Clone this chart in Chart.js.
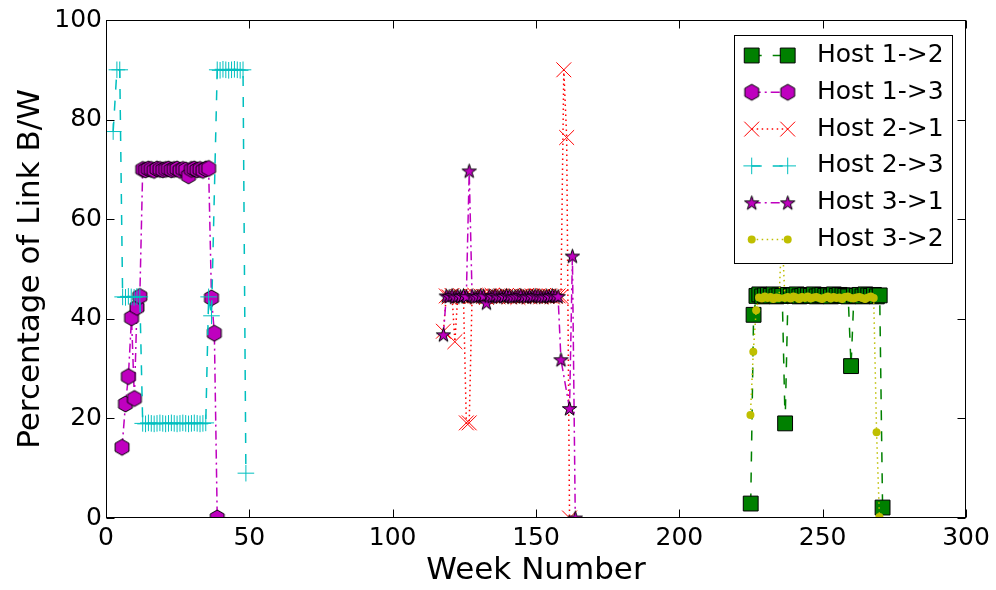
<!DOCTYPE html>
<html><head><meta charset="utf-8">
<script src="https://cdn.jsdelivr.net/npm/chart.js@4/dist/chart.umd.min.js"></script>
<style>html,body{margin:0;padding:0;background:#fff}#wrap{width:996px;height:590px}</style>
</head><body><div id="wrap"><canvas id="c" width="996" height="590"></canvas></div>
<script>
// ---------- data ----------
const xTicks = [0, 50, 100, 150, 200, 250, 300];
const yTicks = [0, 20, 40, 60, 80, 100];
const seriesNames = ['Host 1->2', 'Host 1->3', 'Host 2->1', 'Host 2->3', 'Host 3->1', 'Host 3->2'];

const h12Weeks = [224.9, 225.9, 226.9, 227.9, 228.9, 229.9, 230.9, 231.9, 232.9, 233.9, 234.9, 235.9,
  236.9, 237.9, 238.9, 239.9, 240.9, 241.9, 242.9, 243.9, 244.9, 245.9, 246.9, 247.9, 248.9, 249.9,
  250.9, 251.9, 252.9, 253.9, 254.9, 255.9, 256.9, 257.9, 258.9, 259.9, 260.9, 261.9, 262.9, 263.9,
  264.9, 265.9, 266.9, 267.9, 268.9, 269.9, 270.9];
const h12Vals = [2.9, 40.8, 44.6, 44.9, 44.5, 44.7, 44.8, 44.6, 44.9, 44.5, 44.7, 44.6,
  19.0, 44.8, 44.6, 44.7, 44.9, 44.5, 44.6, 44.8, 44.7, 44.6, 44.9, 44.5, 44.7, 44.8,
  44.6, 44.7, 44.5, 44.9, 44.6, 44.8, 44.7, 44.6, 44.5, 30.5, 44.7, 44.6, 44.8, 44.5,
  44.9, 44.7, 44.6, 44.8, 44.5, 44.7, 2.1];

const h13Weeks = [5.6, 6.8, 7.8, 8.9, 9.9, 10.8, 11.8, 12.8, 13.8, 14.8, 15.8, 16.8, 17.8, 18.8,
  19.8, 20.8, 21.8, 22.8, 23.8, 24.8, 25.8, 26.8, 27.8, 28.8, 29.8, 30.8, 31.8, 32.8, 33.8, 34.8,
  35.8, 36.8, 37.8, 38.8];
const h13Vals = [14.2, 22.9, 28.4, 40.2, 24.0, 42.3, 44.5, 70.0, 69.9, 70.1, 70.0, 69.8, 70.1, 70.0,
  69.9, 70.0, 70.1, 69.9, 70.0, 70.1, 69.8, 70.0, 69.9, 68.7, 70.0, 70.1, 69.9, 70.0, 69.8, 70.1,
  70.2, 44.2, 37.1, 0.0];

const h21Weeks = [117.7, 118.7, 119.7, 120.7, 121.7, 122.7, 123.7, 124.7, 125.7, 126.7, 127.7, 128.7,
  129.7, 130.7, 131.7, 132.7, 133.7, 134.7, 135.7, 136.7, 137.7, 138.7, 139.7, 140.7, 141.7, 142.7,
  143.7, 144.7, 145.7, 146.7, 147.7, 148.7, 149.7, 150.7, 151.7, 152.7, 153.7, 154.7, 155.7, 156.7,
  157.7, 158.7, 159.7, 160.7, 161.7];
const h21Vals = [37.5, 44.6, 44.4, 44.7, 35.4, 44.5, 44.6, 44.4, 19.1, 19.1, 44.5, 44.7,
  44.4, 44.6, 44.5, 44.3, 44.6, 44.7, 44.5, 44.4, 44.6, 44.5, 44.7, 44.4, 44.6, 44.5,
  44.3, 44.6, 44.5, 44.7, 44.4, 44.6, 44.5, 44.6, 44.4, 44.7, 44.5, 44.6, 44.4, 44.5,
  44.6, 44.5, 90.0, 76.4, 0.0];

const h23Weeks = [2.5, 3.8, 4.8, 5.8, 6.8, 7.8, 8.8, 9.8, 10.8, 11.8, 12.8, 13.8, 14.8, 15.8, 16.8,
  17.8, 18.8, 19.8, 20.8, 21.8, 22.8, 23.8, 24.8, 25.8, 26.8, 27.8, 28.8, 29.8, 30.8, 31.8, 32.8,
  33.8, 34.8, 35.8, 36.8, 38.8, 39.8, 40.8, 41.8, 42.8, 43.8, 44.8, 45.8, 46.8, 47.8, 48.8];
const h23Vals = [77.6, 90.0, 90.0, 44.4, 44.3, 44.5, 44.4, 44.3, 44.5, 44.4, 19.0, 18.9, 19.1, 19.0, 18.9,
  19.0, 19.1, 19.0, 18.9, 19.0, 19.1, 19.0, 18.9, 19.0, 19.1, 19.0, 18.9, 19.0, 19.1, 19.0, 18.9,
  19.0, 19.1, 44.4, 40.6, 90.0, 89.9, 90.1, 90.0, 89.9, 90.0, 90.1, 90.0, 89.9, 90.0, 9.0];

const h31Weeks = [117.7, 118.7, 119.7, 120.7, 121.7, 122.7, 123.7, 124.7, 125.7, 126.7, 127.7, 128.7,
  129.7, 130.7, 131.7, 132.7, 133.7, 134.7, 135.7, 136.7, 137.7, 138.7, 139.7, 140.7, 141.7, 142.7,
  143.7, 144.7, 145.7, 146.7, 147.7, 148.7, 149.7, 150.7, 151.7, 152.7, 153.7, 154.7, 155.7, 156.7,
  157.7, 158.7, 161.7, 162.7, 163.7];
const h31Vals = [36.8, 44.6, 44.5, 44.7, 44.4, 44.6, 44.5, 44.7, 44.5, 69.7, 44.6, 44.4,
  44.5, 44.7, 44.6, 43.2, 44.6, 44.5, 44.7, 44.4, 44.6, 44.5, 44.7, 44.6, 44.4, 44.5,
  44.6, 44.7, 44.5, 44.4, 44.6, 44.5, 44.7, 44.6, 44.5, 44.4, 44.6, 44.5, 44.7, 44.6,
  44.5, 31.8, 22.0, 52.6, 0.0];

const h32Weeks = [224.8, 225.8, 226.8, 227.8, 228.8, 229.8, 230.8, 231.8, 232.8, 233.8, 234.8, 235.8,
  236.8, 237.8, 238.8, 239.8, 240.8, 241.8, 242.8, 243.8, 244.8, 245.8, 246.8, 247.8, 248.8, 249.8,
  250.8, 251.8, 252.8, 253.8, 254.8, 255.8, 256.8, 257.8, 258.8, 259.8, 260.8, 261.8, 262.8, 263.8,
  264.8, 265.8, 266.8, 267.8, 268.8, 269.8];
const h32Vals = [20.7, 33.4, 41.7, 44.3, 44.1, 44.5, 44.2, 44.4, 44.0, 44.3, 44.2, 58.0,
  44.2, 44.4, 44.1, 44.5, 44.3, 44.0, 44.4, 44.2, 44.5, 44.1, 44.3, 44.4, 44.2, 44.0,
  44.3, 44.5, 44.1, 44.4, 44.2, 44.3, 44.0, 44.4, 44.5, 44.2, 44.1, 44.3, 44.4, 44.2,
  44.0, 44.3, 44.5, 44.2, 17.2, 0.2];

// ---------- marker images ----------
function makeHex(r, fill) {
  const s = Math.ceil(2 * r + 4); const c = document.createElement('canvas'); c.width = s; c.height = s;
  const g = c.getContext('2d'); g.translate(s / 2, s / 2); g.beginPath();
  for (let i = 0; i < 6; i++) { const a = -Math.PI / 2 + i * Math.PI / 3; g.lineTo(r * Math.cos(a), r * Math.sin(a)); }
  g.closePath(); g.fillStyle = fill; g.fill(); g.lineWidth = 1; g.strokeStyle = '#000'; g.stroke(); return c;
}
function makeStar(r, fill) {
  const s = Math.ceil(2 * r + 4); const c = document.createElement('canvas'); c.width = s; c.height = s;
  const g = c.getContext('2d'); g.translate(s / 2, s / 2 + 0.6); g.beginPath();
  for (let i = 0; i < 10; i++) { const a = -Math.PI / 2 + i * Math.PI / 5; const rr = i % 2 ? r * 0.382 : r; g.lineTo(rr * Math.cos(a), rr * Math.sin(a)); }
  g.closePath(); g.fillStyle = fill; g.fill(); g.lineWidth = 1; g.strokeStyle = '#000'; g.stroke(); return c;
}
const hexImg = makeHex(8, '#bf00bf');
const starImg = makeStar(7.5, '#bf00bf');

function pts(w, v) { return w.map((x, i) => ({ x: x, y: v[i] })); }

const datasets = [
  { label: seriesNames[0], data: pts(h12Weeks, h12Vals), borderColor: '#008000', borderDash: [10, 11], borderWidth: 1.5,
    pointStyle: 'rect', pointRadius: 10.5, pointBackgroundColor: '#008000', pointBorderColor: '#000', pointBorderWidth: 1, order: 6 },
  { label: seriesNames[1], data: pts(h13Weeks, h13Vals), borderColor: '#bf00bf', borderDash: [9, 4, 2, 4], borderWidth: 1.5,
    pointStyle: hexImg, pointRadius: 8, pointBackgroundColor: '#bf00bf', pointBorderColor: '#000', pointBorderWidth: 1, order: 5 },
  { label: seriesNames[2], data: pts(h21Weeks, h21Vals), borderColor: '#ff0000', borderDash: [1.5, 3.5], borderWidth: 1.5,
    pointStyle: 'crossRot', pointRadius: 10.5, pointBackgroundColor: '#ff0000', pointBorderColor: '#ff0000', pointBorderWidth: 1, order: 4 },
  { label: seriesNames[3], data: pts(h23Weeks, h23Vals), borderColor: '#00bfbf', borderDash: [10, 11], borderWidth: 1.5,
    pointStyle: 'cross', pointRadius: 8.3, pointBackgroundColor: '#00bfbf', pointBorderColor: '#00bfbf', pointBorderWidth: 1, order: 3 },
  { label: seriesNames[4], data: pts(h31Weeks, h31Vals), borderColor: '#bf00bf', borderDash: [9, 4, 2, 4], borderWidth: 1.5,
    pointStyle: starImg, pointRadius: 7.5, pointBackgroundColor: '#bf00bf', pointBorderColor: '#000', pointBorderWidth: 1, order: 2 },
  { label: seriesNames[5], data: pts(h32Weeks, h32Vals), borderColor: '#bfbf00', borderDash: [1.5, 3.5], borderWidth: 1.5,
    pointStyle: 'circle', pointRadius: 4, pointBackgroundColor: '#bfbf00', pointBorderColor: '#bfbf00', pointBorderWidth: 0, order: 1 }
];
datasets.forEach(d => { d.fill = false; d.tension = 0; d.clip = 0; d.pointHoverRadius = d.pointRadius; });

const FONT = 'DejaVu Sans';

const framePlugin = {
  id: 'frame',
  afterDatasetsDraw(chart) {
    const { ctx, chartArea: a, scales: { x, y } } = chart;
    ctx.save(); ctx.strokeStyle = '#000'; ctx.lineWidth = 1; ctx.setLineDash([]);
    const L = Math.round(a.left) + 0.5, R = Math.round(a.right) - 0.5, T = Math.round(a.top) + 0.5, B = Math.round(a.bottom) - 0.5;
    ctx.beginPath();
    xTicks.forEach(v => { const px = Math.round(x.getPixelForValue(v)) + 0.5; ctx.moveTo(px, B); ctx.lineTo(px, B - 8); ctx.moveTo(px, T); ctx.lineTo(px, T + 8); });
    yTicks.forEach(v => { const py = Math.round(y.getPixelForValue(v)) + 0.5; ctx.moveTo(L, py); ctx.lineTo(L + 8, py); ctx.moveTo(R, py); ctx.lineTo(R - 8, py); });
    ctx.stroke();
    ctx.strokeRect(L, T, R - L, B - T);
    ctx.restore();
  }
};

const legendPlugin = {
  id: 'mplLegend',
  afterDraw(chart) {
    const ctx = chart.ctx;
    const bx = 734, by = 35, bw = 218, bh = 228;
    ctx.save();
    ctx.fillStyle = '#fff'; ctx.fillRect(bx, by, bw, bh);
    ctx.strokeStyle = '#000'; ctx.lineWidth = 1; ctx.setLineDash([]); ctx.strokeRect(bx + 0.5, by + 0.5, bw, bh);
    chart.data.datasets.forEach((ds, i) => {
      const yy = 55.5 + i * 36.8;
      const x1 = 751.7, x2 = 787.7;
      ctx.save(); ctx.strokeStyle = ds.borderColor; ctx.lineWidth = ds.borderWidth; ctx.setLineDash(ds.borderDash || []);
      ctx.beginPath(); ctx.moveTo(x1, yy); ctx.lineTo(x2, yy); ctx.stroke(); ctx.restore();
      [x1, x2].forEach(xx => {
        ctx.save(); ctx.setLineDash([]);
        ctx.fillStyle = ds.pointBackgroundColor; ctx.strokeStyle = ds.pointBorderColor; ctx.lineWidth = ds.pointBorderWidth || 1;
        Chart.helpers.drawPoint(ctx, { pointStyle: ds.pointStyle, radius: ds.pointRadius, rotation: 0, borderWidth: ds.pointBorderWidth }, xx, yy);
        ctx.restore();
      });
      ctx.fillStyle = '#000'; ctx.font = '25px "' + FONT + '"'; ctx.textBaseline = 'middle'; ctx.textAlign = 'left';
      ctx.fillText(ds.label, 817, yy);
    });
    ctx.restore();
  }
};

new Chart(document.getElementById('c'), {
  type: 'line',
  data: { datasets: datasets },
  plugins: [framePlugin, legendPlugin],
  options: {
    responsive: false, animation: false, devicePixelRatio: 1,
    layout: { padding: { left: 0, right: 30, top: 20, bottom: 0 } },
    plugins: { legend: { display: false }, tooltip: { enabled: false } },
    scales: {
      x: {
        type: 'linear', min: 0, max: 300,
        afterBuildTicks: s => { s.ticks = xTicks.map(v => ({ value: v })); },
        afterFit: s => { s.height = 72; },
        grid: { display: false, drawTicks: false }, border: { display: false },
        ticks: { color: '#000', font: { family: FONT, size: 25 }, padding: 5, maxRotation: 0, autoSkip: false },
        title: { display: true, text: 'Week Number', color: '#000', font: { family: FONT, size: 31 }, padding: { top: 0, bottom: 0 } }
      },
      y: {
        type: 'linear', min: 0, max: 100,
        afterBuildTicks: s => { s.ticks = yTicks.map(v => ({ value: v })); },
        afterFit: s => { s.width = 106; },
        grid: { display: false, drawTicks: false }, border: { display: false },
        ticks: { color: '#000', font: { family: FONT, size: 25 }, padding: 4, autoSkip: false },
        title: { display: true, text: 'Percentage of Link B/W', color: '#000', font: { family: FONT, size: 31 }, padding: { top: 12, bottom: 0 } }
      }
    }
  }
});
</script>
</body></html>
